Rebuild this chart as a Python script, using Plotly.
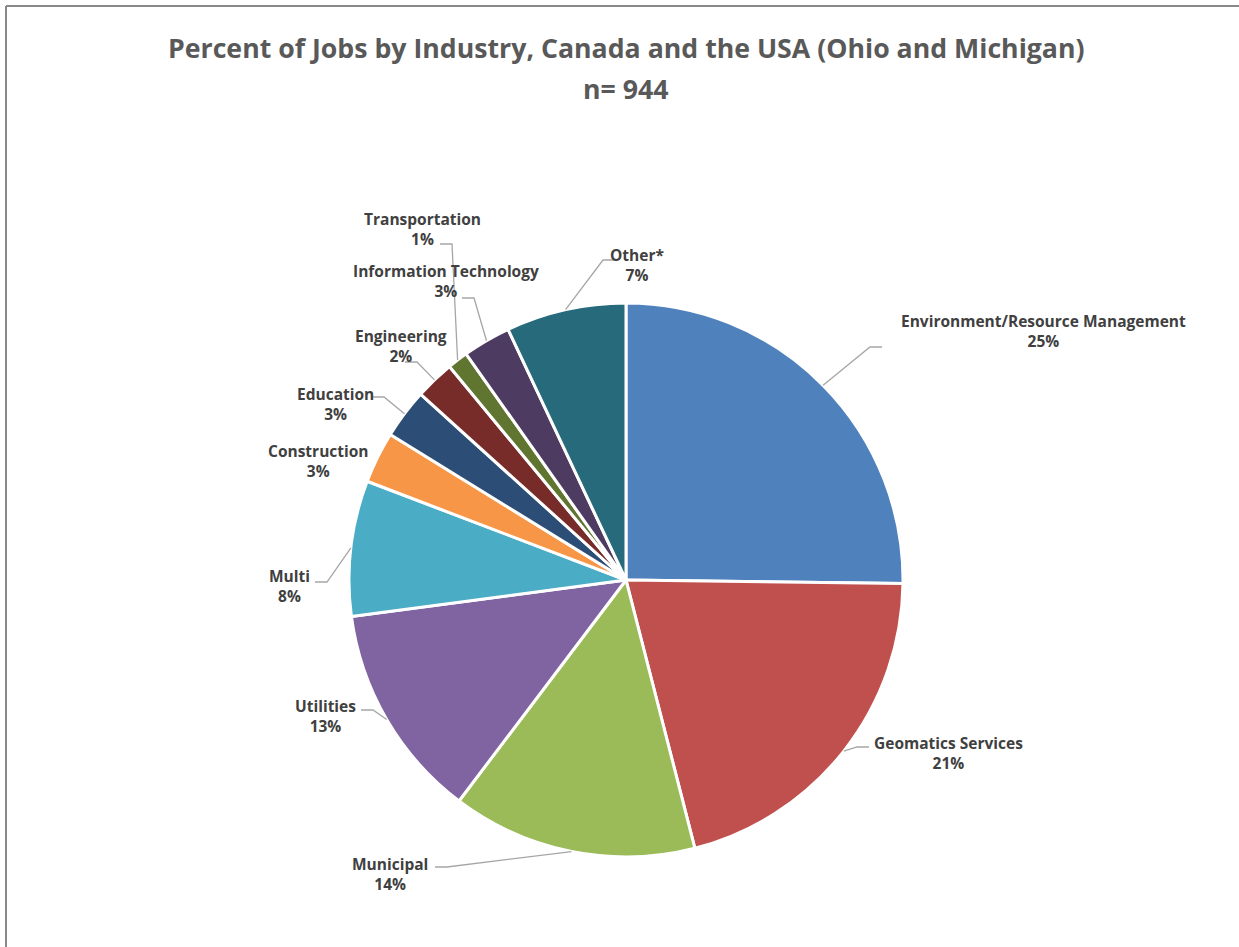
import math
import plotly.graph_objects as go

# ---- data ----
categories = ["Environment/Resource Management", "Geomatics Services", "Municipal",
              "Utilities", "Multi", "Construction", "Education", "Engineering",
              "Transportation", "Information Technology", "Other*"]
percent_values = [25.2, 20.8, 14.3, 12.6, 7.9, 3.0, 2.9, 2.3, 1.2, 2.8, 7.0]
colors = ["#4F81BD", "#C0504D", "#9BBB59", "#8064A2", "#4BACC6", "#F79646",
          "#2C4D75", "#772C2A", "#5F7530", "#4D3B62", "#276A7C"]
title_line1 = "Percent of Jobs by Industry, Canada and the USA (Ohio and Michigan)"
title_line2 = "n= 944"

# ---- layout (pixels) ----
W, H = 1239, 947
ML, MR, MT, MB = 13, 0, 303, 90
PW, PH = W - ML - MR, H - MT - MB
CX, CY = ML + PW / 2, MT + PH / 2
R = min(PW, PH) / 2

# label centre (px) and leader attach point (px); None = no leader line
label_pos = [(1043, 331), (948, 753), (390, 874), (326, 716), (289, 586), (318, 461),
             (335, 404), (401, 346), (423, 229), (446, 281), (637, 265)]
attach_pos = [(882, 347), (869, 747), (435, 867), (361, 710), (315, 582), None,
              (372, 397), (405, 362), (440, 244), (462, 298), (615, 260)]
STUB = 12

FONT = "Open Sans, sans-serif"


def px2paper(x, y):
    return (x - ML) / PW, (H - MB - y) / PH


fig = go.Figure(go.Pie(
    labels=categories, values=percent_values, sort=False, direction="clockwise",
    rotation=0, marker=dict(colors=colors, line=dict(color="white", width=3)),
    textinfo="none", hoverinfo="label+percent", showlegend=False,
))

shapes = []
annotations = []
total = sum(percent_values)
cum = 0.0
for name, v, lp, ap in zip(categories, percent_values, label_pos, attach_pos):
    mid = (cum + v / 2) / total * 2 * math.pi
    cum += v
    ex, ey = CX + R * math.sin(mid), CY - R * math.cos(mid)
    x, y = px2paper(*lp)
    annotations.append(dict(
        x=x, y=y, xref="paper", yref="paper", showarrow=False,
        text=f"<b>{name}</b><br><b>{round(v)}%</b>", align="center",
        font=dict(family=FONT, size=15.5, color="#404040"),
        xanchor="center", yanchor="middle"))
    if ap is not None:
        side = 1 if ap[0] > ex else -1
        elbow = (ap[0] - side * STUB, ap[1])
        pts = [(ex, ey), elbow, ap]
        path = "M " + " L ".join(f"{px2paper(a, b)[0]},{px2paper(a, b)[1]}" for a, b in pts)
        shapes.append(dict(type="path", path=path, xref="paper", yref="paper",
                           line=dict(color="#A6A6A6", width=1.3)))

# border (top & left)
x0, y0 = px2paper(6, 6)
x1, _ = px2paper(W + 5, 6)
_, y1 = px2paper(6, H + 5)
shapes.append(dict(type="line", xref="paper", yref="paper", x0=x0, y0=y0, x1=x1, y1=y0,
                   line=dict(color="#898989", width=2)))
shapes.append(dict(type="line", xref="paper", yref="paper", x0=x0, y0=y0, x1=x0, y1=y1,
                   line=dict(color="#898989", width=2)))

tx, ty1 = px2paper(626, 48)
_, ty2 = px2paper(626, 88)
annotations.append(dict(x=tx, y=ty1, xref="paper", yref="paper", showarrow=False,
                        text=f"<b>{title_line1}</b>", xanchor="center", yanchor="middle",
                        font=dict(family=FONT, size=26.7, color="#595959")))
annotations.append(dict(x=tx, y=ty2, xref="paper", yref="paper", showarrow=False,
                        text=f"<b>{title_line2}</b>", xanchor="center", yanchor="middle",
                        font=dict(family=FONT, size=26.7, color="#595959")))

fig.update_layout(
    width=W, height=H, margin=dict(l=ML, r=MR, t=MT, b=MB, autoexpand=False),
    paper_bgcolor="white", plot_bgcolor="white",
    shapes=shapes, annotations=annotations,
)
fig.write_html("out.html")
